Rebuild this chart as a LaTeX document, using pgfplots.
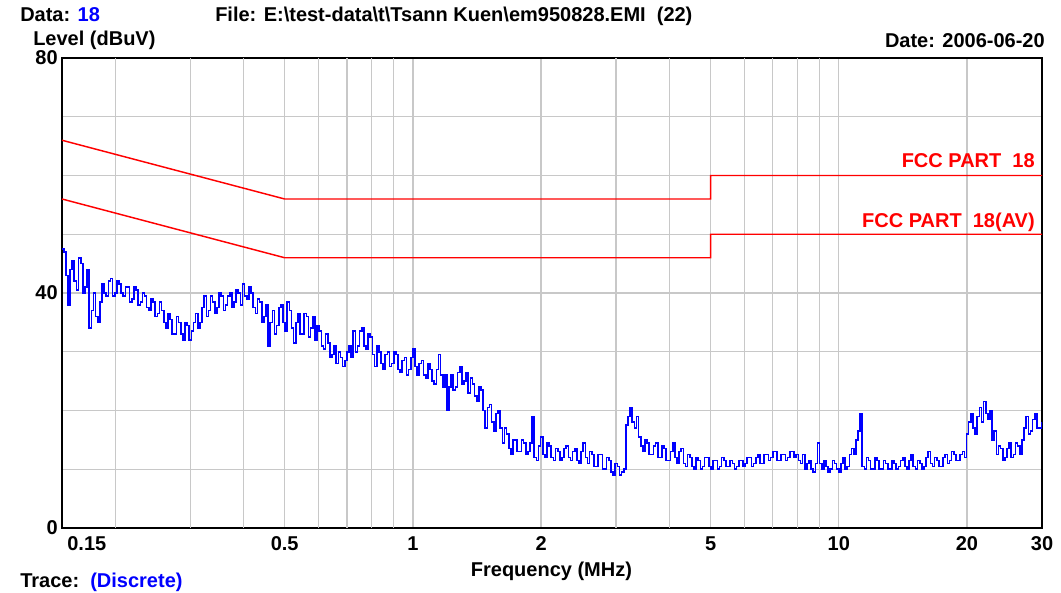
\documentclass[border=0pt]{standalone}
\usepackage{fontspec}
\setmainfont{Liberation Sans}
\usepackage{pgfplots}
\usepackage{pgfplotstable}
\pgfplotsset{compat=1.18}
\definecolor{gridgray}{RGB}{200,200,200}
\definecolor{tblue}{RGB}{0,0,255}
\definecolor{lred}{RGB}{255,0,0}

\pgfplotstableread{
f y
0.15 47.5
0.1514 47
0.1531 43
0.1549 38
0.1567 44
0.1585 45.5
0.1603 42
0.1622 40.5
0.1641 46
0.1660 45
0.1679 40
0.1698 41
0.1718 44
0.1738 34
0.1758 37
0.1778 40
0.1799 36
0.1820 35
0.1841 38.5
0.1862 41.5
0.1883 40
0.1905 39.5
0.1927 42
0.1950 42.5
0.1972 39.5
0.1995 40
0.2018 42
0.2042 41.5
0.2065 40
0.2089 39.5
0.2113 41
0.2138 41
0.2163 38.5
0.2188 39
0.2213 41
0.2239 40.5
0.2265 38
0.2291 38.5
0.2317 40
0.2344 39.5
0.2371 37.5
0.2399 37
0.2427 39
0.2455 38.5
0.2483 36
0.2512 36.5
0.2541 38.5
0.2570 37
0.2600 35
0.2630 34
0.2661 36.5
0.2692 35.5
0.2723 33
0.2754 33
0.2786 36
0.2818 35
0.2851 33
0.2884 32
0.2917 35
0.2951 34.5
0.2985 32
0.3020 33.5
0.3055 35
0.3090 36.5
0.3126 34
0.3162 35
0.3199 37.5
0.3236 39.5
0.3273 36
0.3311 37
0.3349 39.5
0.3388 38.5
0.3427 36.5
0.3467 37.5
0.3507 40
0.3548 39.5
0.3589 37
0.3631 38
0.3673 39.5
0.3715 40
0.3758 37.5
0.3802 38.5
0.3846 40.5
0.3890 40
0.3935 38
0.3981 41.5
0.4027 39.5
0.4074 39
0.4121 41
0.4169 40
0.4217 37.5
0.4266 36.5
0.4315 39
0.4365 38.5
0.4416 35
0.4467 36
0.4519 38
0.4571 31
0.4624 35
0.4677 37
0.4731 33
0.4786 34.5
0.4842 37.5
0.4898 38
0.4955 35
0.5012 33.5
0.5070 38.5
0.5129 37
0.5188 34
0.5248 31.5
0.5309 35
0.5370 36.5
0.5432 33
0.5495 33
0.5559 36.5
0.5623 36
0.5688 32.5
0.5754 34
0.5821 36
0.5888 32
0.5957 34.5
0.6026 33.5
0.6096 31
0.6166 30.5
0.6238 33
0.6310 31.5
0.6383 29
0.6457 29.5
0.6532 31
0.6607 28
0.6684 30
0.6761 29
0.6839 27.5
0.6918 28.5
0.6998 30
0.7079 31
0.7161 29
0.7244 33.5
0.7328 30
0.7413 31
0.7499 33.5
0.7586 34
0.7674 31
0.7762 30.5
0.7852 33
0.7943 32.5
0.8035 29.5
0.8128 27.5
0.8223 31
0.8318 30
0.8414 28
0.8511 27
0.8610 29.5
0.8710 30
0.8811 27.5
0.8913 28
0.9016 30
0.9120 29.5
0.9226 27
0.9333 26.5
0.9441 28.5
0.9550 29
0.9661 26
0.9772 27
0.9886 29
1.000 30.5
1.012 27.5
1.023 26
1.035 28
1.047 28.5
1.059 26
1.072 25.5
1.084 28
1.096 27
1.109 25
1.122 24.5
1.135 27
1.148 29.5
1.161 26
1.175 24
1.188 26
1.202 20
1.216 24
1.230 26
1.244 23.5
1.259 24
1.273 26.5
1.288 27.5
1.303 24.5
1.318 25
1.333 26.5
1.349 23
1.364 25.5
1.380 24.5
1.396 22.5
1.413 21.5
1.429 24
1.445 23.5
1.462 20
1.479 17
1.496 20.5
1.514 21
1.531 18
1.549 16.5
1.567 19.5
1.585 20
1.603 17
1.622 14.5
1.641 17
1.660 16
1.679 13.5
1.698 12.5
1.718 15
1.738 15
1.758 13
1.778 13
1.799 15
1.820 14.5
1.841 12.5
1.862 13
1.883 14.5
1.905 19
1.927 12
1.950 11.5
1.972 14
1.995 15.5
2.018 12.5
2.042 12
2.065 14.5
2.089 14
2.113 12
2.138 11.5
2.163 13.5
2.188 13
2.213 11.5
2.239 12
2.265 13.5
2.291 14
2.317 12
2.344 11.5
2.371 13
2.399 13.5
2.427 11.5
2.455 11
2.483 13
2.512 14.5
2.541 12
2.570 11
2.600 13
2.630 12.5
2.661 10.5
2.692 10.5
2.723 12.5
2.754 12.5
2.786 10
2.818 10
2.851 12
2.884 11.5
2.917 9.5
2.951 9
2.985 11
3.020 10.5
3.055 9
3.090 9.5
3.126 10
3.162 17.5
3.199 19
3.236 20.5
3.273 18
3.311 17
3.349 19
3.388 15.5
3.427 14
3.467 13
3.507 15
3.548 14.5
3.589 12.5
3.631 12.5
3.673 14
3.715 14.5
3.758 12
3.802 12
3.846 14
3.890 13.5
3.935 11.5
3.981 11.5
4.027 13
4.074 14.5
4.121 12
4.169 11
4.217 13
4.266 13.5
4.315 11
4.365 10.5
4.416 12.5
4.467 12
4.519 10.5
4.571 10
4.624 12
4.677 11.5
4.731 10
4.786 10.5
4.842 12
4.898 12
4.955 10.5
5.012 10
5.070 11.5
5.129 11.5
5.188 10
5.248 10.5
5.309 12
5.370 11.5
5.432 10.5
5.495 10.5
5.559 11.5
5.623 11
5.688 10
5.754 10.5
5.821 11.5
5.888 11.5
5.957 10.5
6.026 11
6.096 12
6.166 12
6.238 10.5
6.310 11
6.383 12
6.457 12.5
6.532 11
6.607 11
6.684 12.5
6.761 12.5
6.839 11.5
6.918 12
6.998 13
7.079 13
7.161 11.5
7.244 11.5
7.328 12.5
7.413 12.5
7.499 11.5
7.586 12
7.674 13
7.762 13
7.852 12
7.943 12.5
8.035 11.5
8.128 11
8.223 12.5
8.318 10
8.414 11
8.511 11.5
8.610 10
8.710 9.5
8.811 11
8.913 14.5
9.016 11
9.120 10
9.226 11.5
9.333 10.5
9.441 9.5
9.550 10
9.661 11.5
9.772 11
9.886 10
10.00 9.5
10.12 11
10.23 12
10.35 10
10.47 10.5
10.59 12.5
10.72 13.5
10.84 12.5
10.96 15
11.09 16.5
11.22 19.5
11.35 10.5
11.48 10
11.61 12
11.75 11.5
11.88 10
12.02 10
12.16 12
12.30 11.5
12.44 10
12.59 10
12.73 11.5
12.88 11
13.03 10
13.18 10
13.33 11.5
13.49 11
13.64 10
13.80 10.5
13.96 11.5
14.13 12
14.29 10.5
14.45 10
14.62 11.5
14.79 12.5
14.96 10.5
15.14 10
15.31 11.5
15.49 11
15.67 10
15.85 10.5
16.03 12
16.22 13
16.41 11
16.60 10.5
16.79 12
16.98 11.5
17.18 10.5
17.38 10.5
17.58 12
17.78 12.5
17.99 11
18.20 11.5
18.41 13
18.62 12.5
18.83 11.5
19.05 11.5
19.27 12.5
19.50 13
19.72 12
19.95 16
20.18 18
20.42 19.5
20.65 17
20.89 16
21.13 19
21.38 20.5
21.63 18
21.88 21.5
22.13 19.5
22.39 18.5
22.65 20
22.91 15
23.17 16.5
23.44 12.5
23.71 14
23.99 13.5
24.27 11.5
24.55 12
24.83 13.5
25.12 14.5
25.41 12
25.70 12.5
26.00 14.5
26.30 14
26.61 12.5
26.92 15
27.23 17
27.54 19
27.86 16
28.18 16.5
28.51 18.5
28.84 19.5
29.17 17
29.51 17
30.00 18
}\trace

\pgfplotstableread{
f y
0.15 66
0.5 56
5 56
5 60
30 60
}\limqp

\pgfplotstableread{
f y
0.15 56
0.5 46
5 46
5 50
30 50
}\limav

\begin{document}
\begin{tikzpicture}[font=\bfseries\fontsize{15}{17}\selectfont]
\begin{axis}[
  scale only axis, width=735pt, height=352.5pt,
  at={(0pt,0pt)}, anchor=south west,
  xmode=log, xmin=0.15, xmax=30, ymin=0, ymax=80,
  xtick={0.15,0.5,1,2,5,10,20,30},
  xticklabels={{\makebox[0pt][l]{\hspace{4pt}0.15}},0.5,1,2,5,10,20,30},
  extra x ticks={0.2,0.3,0.4,0.6,0.7,0.8,0.9,3,4,6,7,8,9},
  extra x tick labels={},
  extra x tick style={grid=major},
  ytick={0,10,...,80}, yticklabels={0,,,,40,,,,80},
  grid=major, major grid style={gridgray, line width=1pt},
  major tick length=0pt,
  axis line style={black, line width=1.4pt},
  tick label style={font=\bfseries\fontsize{15}{17}\selectfont, inner sep=2pt},
  /pgf/number format/assume math mode=true,
  xticklabel style={yshift=-4pt},
  yticklabel style={xshift=-1pt},
]
\addplot[lred, line width=1.1pt] table {\limqp};
\addplot[lred, line width=1.1pt] table {\limav};
\addplot[tblue, line width=1.2pt, const plot] table {\trace};
\end{axis}
\node[anchor=base west, inner sep=0] at (-31.5pt,379.5pt) {Data: \textcolor{tblue}{18}};
\node[anchor=base west, inner sep=0] at (114.75pt,379.5pt) {File: E:\textbackslash test-data\textbackslash t\textbackslash Tsann Kuen\textbackslash em950828.EMI\ \ (22)};
\node[anchor=base west, inner sep=0] at (-21.75pt,361.5pt) {Level (dBuV)};
\node[anchor=base east, inner sep=0] at (737.25pt,360pt) {Date: 2006-06-20};
\node[anchor=base east, inner sep=0, text=lred] at (729.75pt,270pt) {FCC PART\ \ 18};
\node[anchor=base east, inner sep=0, text=lred] at (729.75pt,225pt) {FCC PART\ \ 18(AV)};
\node[anchor=base, inner sep=0] at (367.1pt,-36.75pt) {Frequency (MHz)};
\node[anchor=base west, inner sep=0] at (-31.5pt,-45pt) {Trace:\ \ \textcolor{tblue}{(Discrete)}};
\path[use as bounding box] (-46.5pt,-40.5pt) rectangle (749.25pt,396pt);
\end{tikzpicture}
\end{document}
